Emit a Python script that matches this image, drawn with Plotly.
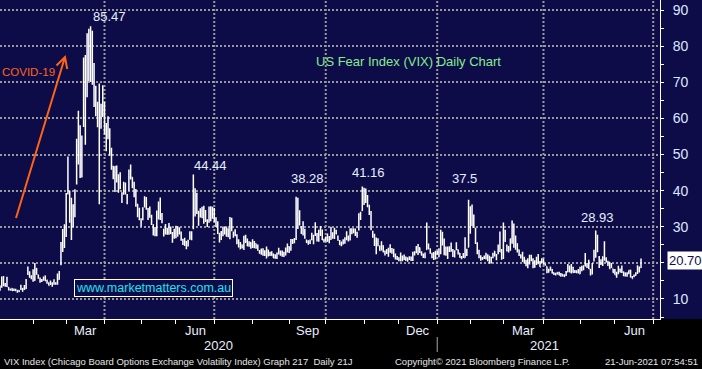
import pandas as pd
import plotly.graph_objects as go

# ---------------- data: VIX daily OHLC, 2 Jan 2020 - 18 Jun 2021 ----------------
holidays = ["2020-01-20", "2020-02-17", "2020-04-10", "2020-05-25", "2020-07-03",
            "2020-09-07", "2020-11-26", "2020-12-25", "2021-01-01", "2021-01-18",
            "2021-02-15", "2021-04-02", "2021-05-31"]

open_ = [
    13.46,15.01,15.45,13.84,15.16,13.16,12.47,12.90,12.46,12.50,12.10,12.33,13.45,12.42,13.03,12.92,17.99,17.20,16.08,17.29,15.18,
    18.45,16.69,15.33,15.01,15.51,16.38,14.65,14.45,14.60,14.08,14.78,14.46,14.24,15.43,21.83,24.35,26.24,29.60,40.81,
    38.22,33.31,35.66,34.85,48.00,49.03,57.83,50.06,61.74,70.07,72.87,79.97,73.22,76.24,67.21,63.58,62.38,63.89,61.94,64.51,63.51,55.98,
    57.38,56.60,50.79,44.49,42.01,46.34,43.39,44.65,38.33,40.46,41.84,38.19,43.73,45.66,43.67,41.72,39.53,36.22,32.04,32.12,33.15,
    36.88,37.18,34.36,33.65,32.47,29.80,29.59,28.10,33.54,36.36,33.06,28.12,28.84,29.59,28.34,29.07,25.81,28.13,27.41,28.95,
    29.53,28.03,26.48,25.71,25.89,26.21,26.61,27.24,30.36,37.32,38.55,30.49,33.66,34.30,32.07,34.32,31.78,31.36,33.78,32.65,33.86,31.36,
    30.86,27.91,28.20,27.81,29.21,27.81,29.09,26.74,31.06,28.02,28.86,27.50,26.13,23.87,24.92,24.50,27.11,26.61,24.98,25.61,25.44,24.36,
    25.29,24.86,23.11,22.99,23.51,22.86,22.10,23.58,22.38,22.56,22.30,21.57,21.35,23.10,22.81,22.17,22.54,22.27,23.34,24.45,23.95,
    26.22,26.45,26.58,31.97,32.89,30.02,27.99,28.46,26.32,25.72,25.82,27.27,25.74,28.45,27.34,27.52,28.93,28.69,26.21,26.45,25.95,
    26.26,28.98,27.61,27.32,28.89,27.38,26.09,25.30,25.64,25.79,28.08,26.19,26.90,29.16,28.93,29.12,28.36,29.17,33.29,34.49,40.19,38.51,
    38.57,35.57,33.22,28.07,27.26,25.33,25.52,24.55,24.11,24.76,23.14,22.85,22.50,24.26,23.13,23.42,22.12,21.25,21.25,21.45,
    21.63,21.34,20.69,21.22,21.08,21.58,21.13,22.59,23.90,22.84,24.16,22.51,22.29,22.13,23.73,24.10,23.35,22.45,22.45,21.12,22.64,22.90,
    23.04,26.51,25.48,23.94,22.15,23.99,23.91,23.13,22.16,24.00,23.61,22.67,21.42,22.15,21.42,23.04,24.33,33.16,31.13,
    32.68,29.39,25.15,23.45,21.20,21.41,21.48,21.29,21.37,21.91,20.07,22.28,23.21,21.81,23.10,24.38,23.38,21.48,27.43,
    24.64,23.43,23.96,25.98,28.72,25.59,24.80,23.58,21.61,22.82,21.15,19.73,20.08,20.84,21.94,20.76,19.12,19.97,21.53,20.16,20.42,20.57,19.72,
    18.96,17.87,18.11,18.19,17.29,17.08,17.36,17.23,16.73,16.86,16.34,16.73,17.57,19.11,17.54,18.74,17.73,17.75,17.53,17.01,18.69,
    18.83,19.41,19.10,19.18,18.16,17.13,21.37,21.90,25.79,21.49,19.85,19.54,22.39,21.13,19.90,20.15,18.71,18.30,17.70,16.67,
    17.63,17.93,17.86,17.48,17.17,16.66,17.04,17.96,16.09,16.37,16.56,17.40,17.94,18.75,
]
high = [
    13.72,16.20,16.39,14.46,16.19,13.24,12.93,12.99,12.90,12.80,12.45,12.45,13.91,13.05,13.90,15.56,19.02,17.65,16.58,18.20,19.99,
    18.58,16.70,15.98,15.52,16.22,16.52,15.36,14.64,15.12,14.64,15.44,14.60,17.08,17.75,25.79,29.37,30.70,39.35,49.48,
    39.93,38.04,36.20,40.39,54.39,62.12,58.12,55.27,76.83,77.57,83.56,84.83,85.47,84.26,75.36,69.06,64.61,69.66,64.08,69.18,64.52,58.75,
    60.59,57.24,51.88,46.91,46.76,46.94,44.56,45.09,39.58,42.45,42.23,39.09,45.83,47.20,43.70,42.45,40.48,36.27,35.27,32.36,35.43,
    38.44,38.20,35.20,35.59,33.34,30.66,29.91,34.47,37.02,38.07,33.80,29.45,30.73,29.64,31.04,30.05,28.55,29.45,30.27,30.17,
    29.84,28.71,26.63,26.94,26.07,26.41,28.73,28.78,44.44,40.69,39.40,34.42,35.13,35.53,35.82,34.64,32.05,35.57,35.64,35.50,35.22,32.61,
    31.54,28.33,28.85,30.09,29.95,30.04,29.60,32.67,32.51,28.70,29.32,27.91,26.55,25.76,25.10,27.52,27.78,26.67,25.95,25.70,26.52,26.04,
    25.34,25.08,23.57,23.96,24.07,23.52,24.54,23.60,23.07,23.25,22.56,22.36,22.86,24.16,23.45,23.43,23.06,24.27,25.37,24.58,26.60,
    26.60,26.85,38.28,38.02,34.56,30.14,31.54,29.43,26.40,26.23,26.50,28.35,27.78,31.23,28.25,29.20,30.20,29.21,26.66,27.28,28.14,
    27.46,30.03,28.50,29.75,29.20,27.58,26.32,25.94,26.52,27.10,28.77,27.51,29.60,29.55,29.59,29.54,28.58,33.73,34.12,41.16,40.77,40.60,
    38.79,36.07,34.35,28.92,28.09,27.00,26.83,24.80,25.99,24.87,23.45,23.82,24.18,25.12,24.13,23.89,22.57,21.93,21.52,22.85,
    22.01,22.33,21.75,21.57,21.85,21.77,23.06,23.20,24.64,25.19,24.26,23.20,22.60,22.86,31.20,25.38,24.05,22.83,22.99,23.32,23.38,24.03,
    29.19,28.60,26.77,24.51,24.54,24.63,25.63,23.82,23.49,25.72,23.72,22.73,21.91,22.73,27.09,23.89,37.50,35.69,36.17,
    33.39,29.72,25.71,23.60,22.09,21.65,22.07,22.83,22.36,21.91,21.60,22.81,23.21,22.45,25.11,28.69,23.85,31.16,29.19,
    25.06,24.69,26.70,31.71,30.90,27.61,25.43,23.69,22.37,23.06,21.72,20.85,21.30,22.24,22.28,21.27,20.73,21.71,22.47,20.52,21.27,21.23,19.84,
    19.01,18.35,18.96,18.31,17.35,17.26,17.42,17.54,17.22,16.88,16.87,17.78,19.66,19.20,19.67,18.89,18.03,17.96,18.30,18.90,19.23,
    19.33,22.70,19.94,20.86,18.34,19.95,23.65,28.93,27.77,21.90,21.02,21.82,25.96,21.54,20.59,20.24,19.93,18.34,18.31,17.55,
    19.22,18.41,19.26,17.63,17.36,17.37,17.98,18.08,16.34,16.78,17.38,19.33,19.02,21.20,
]
low = [
    12.42,13.13,13.54,13.39,13.31,12.37,12.38,12.24,12.20,12.12,11.75,11.96,12.50,11.98,12.52,12.78,16.63,15.88,15.43,14.75,15.07,
    16.71,15.60,14.49,14.73,15.06,14.99,14.23,13.70,13.85,13.38,13.92,13.91,13.92,15.30,19.35,23.02,24.14,27.14,38.91,
    31.08,26.35,29.85,32.63,41.69,47.22,43.52,43.62,57.59,52.73,65.85,70.37,70.10,69.34,63.13,60.59,57.57,36.20,57.12,60.41,55.57,50.88,
    54.23,49.66,45.76,43.16,39.62,42.22,39.43,40.37,36.56,38.89,38.95,36.22,39.96,43.07,40.68,38.16,35.50,32.64,31.78,30.06,31.78,
    35.30,34.70,31.88,32.52,30.49,27.58,27.37,27.38,32.01,31.90,30.96,27.32,27.85,27.81,27.75,27.98,25.55,26.69,26.82,27.25,
    27.83,26.14,24.98,24.70,23.80,24.53,26.39,26.24,29.32,32.84,33.54,30.27,32.55,32.37,30.82,31.30,29.94,31.12,31.51,32.19,31.29,29.96,
    28.02,25.66,26.36,27.35,27.84,27.22,27.07,26.51,28.76,26.97,27.35,25.14,24.27,23.83,23.96,23.58,25.47,24.60,24.43,23.92,24.14,24.05,
    23.88,23.36,22.49,22.26,21.96,21.90,21.23,21.76,21.93,21.95,21.32,21.15,21.06,22.30,21.98,21.68,21.59,22.01,22.84,22.74,23.37,
    25.23,25.42,26.33,29.40,30.36,28.01,27.55,26.65,25.50,25.03,25.20,26.25,25.17,27.45,25.94,25.85,27.47,26.32,25.66,25.91,25.84,
    25.46,26.31,26.68,26.64,27.92,26.15,24.98,24.60,25.11,25.30,26.28,25.89,26.21,27.94,28.22,27.42,26.95,28.97,31.90,34.33,36.05,36.58,
    35.43,33.24,29.05,26.92,24.66,22.41,24.58,23.34,23.42,22.96,22.01,22.46,21.67,22.77,22.55,21.53,20.94,20.77,20.42,20.48,
    20.43,20.82,20.58,20.28,20.82,20.55,20.51,22.05,22.66,22.16,22.73,21.95,21.36,21.31,23.68,23.72,22.54,21.31,20.77,20.94,22.28,21.56,
    22.41,24.80,22.14,21.96,21.08,22.99,23.09,21.63,21.51,23.47,22.32,21.40,20.99,21.36,21.40,21.88,24.33,28.09,30.20,
    29.63,25.24,22.40,21.30,20.60,20.77,21.06,20.94,20.48,19.92,19.85,21.27,21.79,20.74,22.38,22.98,20.87,21.10,25.78,
    23.18,22.88,23.37,25.31,24.20,23.61,22.89,21.93,21.19,20.27,19.81,19.06,18.52,19.58,20.42,18.48,18.67,19.40,19.81,18.86,19.97,19.58,19.26,
    17.14,17.25,17.79,17.04,16.64,16.52,16.82,16.55,16.19,16.22,16.07,16.37,17.38,17.43,17.03,17.25,17.16,17.15,17.04,16.91,17.66,
    17.94,18.98,18.57,18.31,16.47,16.81,20.40,21.42,22.94,18.60,19.43,19.16,20.61,20.09,19.12,18.34,18.55,17.25,16.69,15.86,
    16.85,17.38,17.21,16.38,16.24,16.14,16.89,15.95,15.65,15.99,16.44,16.92,17.34,18.59,
]
close = [
    12.47,14.02,13.85,13.79,13.45,12.54,12.56,12.32,12.39,12.42,12.32,12.10,12.85,12.91,12.98,14.56,18.23,16.28,16.39,15.49,18.84,
    17.97,16.05,15.15,14.96,15.47,15.04,15.18,13.74,14.15,13.68,14.83,14.38,15.56,17.08,25.03,27.85,27.56,39.16,40.11,
    33.42,36.82,31.99,39.62,41.94,54.46,47.30,53.90,75.47,57.83,82.69,75.91,76.45,72.00,66.04,61.59,61.67,63.95,61.00,65.54,57.08,53.54,
    57.06,50.91,46.80,45.24,46.70,43.35,41.67,41.17,37.76,40.84,40.11,38.15,43.83,45.41,41.98,41.38,35.93,33.29,33.57,31.23,34.15,
    37.19,35.97,33.61,34.12,31.44,27.98,27.57,33.04,35.28,32.61,31.89,29.30,30.53,27.99,29.53,28.16,28.01,27.62,28.59,27.51,
    28.23,26.84,25.66,25.81,24.52,25.81,27.57,27.57,40.79,36.09,34.40,33.67,33.47,32.94,35.12,31.77,31.37,33.84,32.22,34.73,31.78,30.43,
    28.62,27.68,27.94,29.43,28.08,29.26,27.29,32.19,29.52,27.76,28.00,25.68,24.46,24.84,24.32,26.08,25.84,24.74,25.44,24.10,24.76,24.46,
    24.28,23.76,23.00,22.65,22.21,22.13,24.03,22.28,22.59,22.05,21.35,21.51,22.54,22.72,22.54,22.37,22.03,23.27,24.47,22.96,26.41,
    26.12,26.57,33.60,30.75,31.46,28.81,29.71,26.87,25.85,25.59,26.04,26.46,25.83,27.78,26.86,28.58,28.51,26.38,26.19,26.27,26.37,
    26.70,27.63,27.96,29.48,28.06,26.36,25.00,25.07,26.07,26.40,26.97,27.41,29.18,29.35,28.65,28.11,27.55,32.46,33.35,40.28,37.59,38.02,
    37.13,35.55,29.57,27.58,24.86,25.75,24.80,23.45,25.35,23.10,22.45,22.71,23.84,23.11,23.70,22.66,21.64,21.25,20.84,20.57,
    20.77,21.17,21.28,20.79,20.99,21.30,22.27,22.52,23.31,24.72,22.89,22.50,21.93,21.57,25.16,24.23,23.31,21.53,21.70,23.08,22.77,22.75,
    26.97,25.34,25.07,22.37,21.56,24.08,23.33,22.21,23.25,24.34,23.24,21.58,21.32,21.91,23.19,23.02,37.21,30.21,33.09,
    30.24,25.56,22.91,21.77,20.87,21.24,21.63,21.99,21.25,19.97,21.46,21.50,22.49,22.05,23.45,23.11,21.34,28.89,27.95,
    23.35,24.10,26.67,28.57,24.66,25.47,24.03,22.56,21.91,20.69,20.03,19.79,19.23,21.58,20.95,18.88,20.30,21.20,19.81,18.86,20.74,19.61,19.40,
    17.33,17.91,18.12,17.16,16.95,16.69,16.91,16.65,16.99,16.57,16.25,17.29,18.68,17.50,18.71,17.33,17.64,17.56,17.28,18.61,18.61,
    18.31,19.48,19.15,18.39,16.69,19.66,21.84,27.59,23.13,18.81,19.72,21.34,22.18,20.67,20.15,18.40,18.84,17.36,16.74,16.76,
    17.90,17.48,18.04,16.42,16.42,17.07,17.89,16.10,15.65,16.39,17.02,18.15,17.75,20.70,
]

peak_dates = ["2020-03-18", "2020-06-11", "2020-09-03", "2020-10-28", "2021-01-27", "2021-05-12"]
peak_shift = [(19, 0), (17, 0), (11, 9), (6, 4), (-4, 12), (2, 4)]   # label offsets in px

y_ticks = [10, 20, 30, 40, 50, 60, 70, 80, 90]
label_months = {3: "Mar", 6: "Jun", 9: "Sep", 12: "Dec"}

# ---------------- layout constants ----------------
W, H = 702, 369
PW, PH = 660, 319                      # plot area size in px
NAVY = "#0d0c48"
GRID = "#9a9a9a"
FONT = "Liberation Sans, Arial, sans-serif"
X_RANGE = [0, 378.9]
Y_RANGE = [4.46, 92.77]
TICK_SHIFT = 2.0                       # Bloomberg month ticks sit ~2 sessions before month start

dates = pd.bdate_range("2020-01-02", "2021-06-18", freq="C", holidays=holidays)
assert len(dates) == len(open_) == len(high) == len(low) == len(close), (
    len(dates), len(open_), len(high), len(low), len(close))
idx = list(range(len(dates)))
date_pos = {d.strftime("%Y-%m-%d"): i for i, d in enumerate(dates)}

# axis calendar (extends beyond data to the end of the visible range)
cal = pd.bdate_range("2020-01-02", "2021-07-31", freq="C", holidays=holidays + ["2021-07-05"])
month_first = {}
for i, d in enumerate(cal):
    month_first.setdefault((d.year, d.month), i)
mkeys = list(month_first.keys())
mpos = {k: month_first[k] - TICK_SHIFT for k in mkeys}
tick_keys = [k for k in mkeys if X_RANGE[0] < mpos[k] < X_RANGE[1]]

ppu = PW / (X_RANGE[1] - X_RANGE[0])


def paper_x(px):
    return px / PW


def paper_y(py):
    return (PH - py) / PH


fig = go.Figure()

fig.add_trace(go.Ohlc(
    x=idx, open=open_, high=high, low=low, close=close,
    increasing=dict(line=dict(color="white", width=1.5)),
    decreasing=dict(line=dict(color="white", width=1.5)),
    tickwidth=0.45, hoverinfo="skip", showlegend=False,
))

# right-axis triangle markers
x_tri = X_RANGE[1] + 4 / ppu
fig.add_trace(go.Scatter(
    x=[x_tri] * len(y_ticks), y=y_ticks, mode="markers",
    marker=dict(symbol="triangle-right", size=7, color="white"),
    cliponaxis=False, hoverinfo="skip", showlegend=False,
))
# last value pointer
fig.add_trace(go.Scatter(
    x=[X_RANGE[1] + 5 / ppu], y=[close[-1]], mode="markers",
    marker=dict(symbol="triangle-left", size=15, color="white"),
    cliponaxis=False, hoverinfo="skip", showlegend=False,
))

shapes = []
# vertical dotted grid at quarter starts
for k in tick_keys:
    if k[1] in (1, 4, 7, 10):
        shapes.append(dict(type="line", xref="x", yref="paper", x0=mpos[k], x1=mpos[k],
                           y0=0, y1=1, line=dict(color=GRID, width=2, dash="2px,2px"),
                           layer="below"))
# navy band behind right axis labels
shapes.append(dict(type="rect", xref="paper", yref="paper", x0=1, x1=W / PW, y0=0, y1=1,
                   fillcolor=NAVY, line=dict(width=0), layer="below"))
# year separator
jan21 = mpos[(2021, 1)]
shapes.append(dict(type="line", xref="x", yref="paper", x0=jan21, x1=jan21,
                   y0=paper_y(337), y1=paper_y(352), line=dict(color="#a8a8a8", width=1)))
# COVID arrow
tail, tip, a1, a2 = (16, 218), (65, 57), (56.5, 65.5), (67.2, 69.0)
path = (f"M {paper_x(tail[0])},{paper_y(tail[1])} L {paper_x(tip[0])},{paper_y(tip[1])} "
        f"M {paper_x(a1[0])},{paper_y(a1[1])} L {paper_x(tip[0])},{paper_y(tip[1])} "
        f"L {paper_x(a2[0])},{paper_y(a2[1])}")
shapes.append(dict(type="path", xref="paper", yref="paper", path=path,
                   line=dict(color="#ff6416", width=2)))

ann = []
lab_font = dict(family=FONT, size=13, color="#e8eeff")
# month labels
for k in tick_keys:
    if k[1] in label_months:
        nxt = mkeys[mkeys.index(k) + 1]
        ann.append(dict(x=(mpos[k] + mpos[nxt]) / 2, y=paper_y(330), xref="x", yref="paper",
                        text=label_months[k[1]], showarrow=False, font=lab_font,
                        xanchor="center", yanchor="middle"))
# year labels
ann.append(dict(x=(X_RANGE[0] + jan21) / 2, y=paper_y(345), xref="x", yref="paper", text="2020",
                showarrow=False, font=lab_font, xanchor="center", yanchor="middle"))
ann.append(dict(x=(jan21 + X_RANGE[1]) / 2 - 4 / ppu, y=paper_y(345), xref="x", yref="paper", text="2021",
                showarrow=False, font=lab_font, xanchor="center", yanchor="middle"))
# peak labels
for d, (dx, dy) in zip(peak_dates, peak_shift):
    i = date_pos[d]
    ann.append(dict(x=i, y=high[i], xref="x", yref="y", text=f"{high[i]:g}", showarrow=False,
                    font=dict(family=FONT, size=13, color="#e6eeff"), xanchor="center",
                    yanchor="bottom", xshift=dx, yshift=dy))
# chart title
ann.append(dict(x=paper_x(314), y=paper_y(61), xref="paper", yref="paper",
                text="US Fear Index (VIX) Daily Chart", showarrow=False,
                font=dict(family=FONT, size=13, color="#86ec8c"), xanchor="left", yanchor="middle"))
# COVID text
ann.append(dict(x=paper_x(0.5), y=paper_y(72), xref="paper", yref="paper", text="COVID-19",
                showarrow=False, font=dict(family=FONT, size=11.5, color="#ff6416"),
                xanchor="left", yanchor="middle", borderpad=0))
# watermark
ann.append(dict(x=paper_x(153.5), y=paper_y(288), xref="paper", yref="paper",
                text="www.marketmatters.com.au", showarrow=False,
                font=dict(family=FONT, size=12.5, color="#1de2f4"), xanchor="center",
                yanchor="middle", bordercolor="white", borderwidth=1, borderpad=1, bgcolor=NAVY))
# last value box
ann.append(dict(x=paper_x(667), y=close[-1], xref="paper", yref="y", text=f"{close[-1]:.2f}",
                showarrow=False, font=dict(family=FONT, size=13, color="#0d0c48"),
                xanchor="left", yanchor="middle", bgcolor="white", borderpad=1))
# footer
foot = dict(family=FONT, size=9.5, color="#e6e6e6")
ann.append(dict(x=paper_x(2), y=paper_y(361), xref="paper", yref="paper", showarrow=False,
                text="VIX Index (Chicago Board Options Exchange Volatility Index) Graph 217  Daily 21J",
                font=foot, xanchor="left", yanchor="middle"))
ann.append(dict(x=paper_x(393), y=paper_y(361), xref="paper", yref="paper", showarrow=False,
                text="Copyright\u00a9 2021 Bloomberg Finance L.P.", font=foot,
                xanchor="left", yanchor="middle"))
ann.append(dict(x=paper_x(700), y=paper_y(361), xref="paper", yref="paper", showarrow=False,
                text="21-Jun-2021 07:54:51", font=foot, xanchor="right", yanchor="middle"))

fig.update_layout(
    width=W, height=H, autosize=False,
    margin=dict(l=0, r=W - PW, t=0, b=H - PH, pad=0, autoexpand=False),
    paper_bgcolor="black", plot_bgcolor=NAVY,
    showlegend=False, shapes=shapes, annotations=ann,
    xaxis=dict(range=X_RANGE, tickvals=[mpos[k] for k in tick_keys],
               ticktext=["" for _ in tick_keys], ticks="outside", ticklen=4,
               tickcolor="white", showline=True, linecolor="white", linewidth=1,
               showgrid=False, zeroline=False, rangeslider=dict(visible=False),
               automargin=False, fixedrange=True),
    yaxis=dict(side="right", range=Y_RANGE, tickvals=y_ticks,
               ticktext=["" if abs(v - close[-1]) < 4 else str(v) for v in y_ticks],
               ticks="outside", ticklen=3, tickcolor="white",
               showline=True, linecolor="white", linewidth=1,
               showgrid=True, gridcolor=GRID, gridwidth=2, griddash="2px,2px",
               zeroline=False, ticklabelstandoff=6, automargin=False,
               tickfont=dict(family=FONT, size=14, color="#dfe6ff"),
               minor=dict(dtick=5, tick0=0, ticks="outside", ticklen=3,
                          tickcolor="white", showgrid=False),
               fixedrange=True),
)

fig.write_html(
    "out.html",
    config={"displayModeBar": False},
    post_script="document.body.style.margin='0';document.body.style.background='black';",
)
